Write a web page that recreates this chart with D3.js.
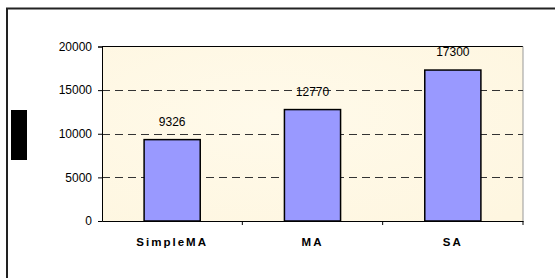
<!DOCTYPE html>
<meta charset="utf-8">
<html>
<script src="https://d3js.org/d3.v7.min.js"></script>
<style>
  body { margin: 0; background: #fff; }
</style>
<div id="chart"></div>
<script>

// chart data
var categories = ["SimpleMA", "MA", "SA"];
var values = [9326, 12770, 17300];
var yTicks = [0, 5000, 10000, 15000, 20000];

var width = 555,
    height = 278;
var margin = {left: 102, top: 46.5, right: 32, bottom: 57};

var svg = d3.select("#chart")
  .append("svg")
    .attr("width", width)
    .attr("height", height);

// frame: only top and left edges are visible
svg.append("line")
    .attr("x1", 6).attr("x2", width).attr("y1", 8.5).attr("y2", 8.5)
    .attr("stroke", "#222").attr("stroke-width", 2);
svg.append("line")
    .attr("x1", 7).attr("x2", 7).attr("y1", 8).attr("y2", height)
    .attr("stroke", "#222").attr("stroke-width", 2);

// black block at the left
svg.append("rect")
    .attr("x", 11).attr("y", 110)
    .attr("width", 16).attr("height", 50)
    .attr("fill", "#000");

var x = d3.scaleBand()
  .domain(categories)
  .range([margin.left, width - margin.right])
  .paddingInner(0.6)
  .paddingOuter(0.3);

var xOuter = d3.scaleBand()
  .domain(categories)
  .range([margin.left, width - margin.right]);

var y = d3.scaleLinear()
  .domain([0, 20000])
  .range([height - margin.bottom, margin.top]);

// plot background
var defs = svg.append("defs");
var grad = defs.append("radialGradient").attr("id", "bg").attr("cx", "40%").attr("cy", "40%").attr("r", "80%");
grad.append("stop").attr("offset", "0%").attr("stop-color", "#fffaea");
grad.append("stop").attr("offset", "100%").attr("stop-color", "#fef6e0");

svg.append("rect")
    .attr("x", margin.left)
    .attr("y", margin.top)
    .attr("width", width - margin.right - margin.left)
    .attr("height", y(0) - y(20000))
    .attr("fill", "url(#bg)");

// plot border: black top, grey right
svg.append("line")
    .attr("x1", margin.left).attr("x2", width - margin.right)
    .attr("y1", margin.top).attr("y2", margin.top)
    .attr("stroke", "#000");
svg.append("line")
    .attr("x1", width - margin.right).attr("x2", width - margin.right)
    .attr("y1", margin.top).attr("y2", y(0))
    .attr("stroke", "#999");

// dashed gridlines
svg.append("g")
  .selectAll("line")
  .data(yTicks.filter(function(d) { return d > 0 && d < 20000; }))
  .enter().append("line")
    .attr("x1", margin.left)
    .attr("x2", width - margin.right)
    .attr("y1", function(d) { return Math.round(y(d)) + 0.5; })
    .attr("y2", function(d) { return Math.round(y(d)) + 0.5; })
    .attr("stroke", "#333")
    .attr("stroke-dasharray", "8,5");

// bars
svg.append("g")
  .selectAll("rect")
  .data(values)
  .enter().append("rect")
    .attr("x", function(d, i) { return x(categories[i]); })
    .attr("y", function(d) { return y(d); })
    .attr("width", x.bandwidth())
    .attr("height", function(d) { return y(0) - y(d); })
    .attr("fill", "#9999ff")
    .attr("stroke", "#000")
    .attr("stroke-width", 1.5);

// value labels
svg.append("g")
  .selectAll("text")
  .data(values)
  .enter().append("text")
    .attr("x", function(d, i) { return x(categories[i]) + x.bandwidth() / 2; })
    .attr("y", function(d) { return y(d) - 14; })
    .attr("text-anchor", "middle")
    .style("font-family", "Liberation Sans, Arial, sans-serif")
    .style("font-size", "12px")
    .attr("fill", "#000")
    .text(function(d) { return d; });

// y axis
var yAxis = svg.append("g")
    .attr("transform", "translate(" + margin.left + ",0)")
    .call(d3.axisLeft(y).tickValues(yTicks).tickSize(4).tickPadding(6).tickFormat(d3.format("d")));
yAxis.select(".domain").attr("stroke", "#000");
yAxis.selectAll("text")
    .style("font-family", "Liberation Sans, Arial, sans-serif")
    .style("font-size", "12px")
    .attr("fill", "#000");

// x axis
var xAxis = svg.append("g")
    .attr("transform", "translate(0," + y(0) + ")")
    .call(d3.axisBottom(xOuter).tickSize(0).tickPadding(17));
xAxis.select(".domain").attr("stroke", "#000");
xAxis.selectAll("text")
    .style("font-family", "Liberation Sans, Arial, sans-serif")
    .style("font-size", "11.5px")
    .style("font-weight", "bold")
    .style("letter-spacing", "2px")
    .attr("fill", "#000");

// category separator ticks
svg.append("g")
  .selectAll("line")
  .data(categories)
  .enter().append("line")
    .attr("x1", function(d) { return xOuter(d) + xOuter.bandwidth(); })
    .attr("x2", function(d) { return xOuter(d) + xOuter.bandwidth(); })
    .attr("y1", y(0))
    .attr("y2", y(0) + 4)
    .attr("stroke", "#000");

</script>
</html>
